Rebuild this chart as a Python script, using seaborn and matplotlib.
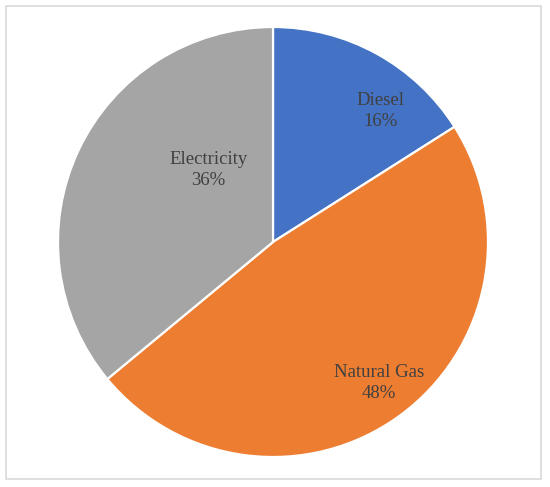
import numpy as np
import matplotlib
matplotlib.use("Agg")
import matplotlib.pyplot as plt
from matplotlib.patches import Rectangle
import seaborn as sns

categories = ["Diesel", "Natural Gas", "Electricity"]
shares = [16, 48, 36]
colors = ["#4472C4", "#ED7D31", "#A5A5A5"]

# label placement: offset from wedge mid-angle (deg) and radius fraction
label_offset = [-10.5, 1, -23]
label_radius = [0.79, 0.82, 0.45]

sns.set_style("white")
plt.rcParams["font.family"] = ["Liberation Serif", "DejaVu Serif"]

fig = plt.figure(figsize=(5.5, 4.87), dpi=100)
fig.patch.set_facecolor("white")
fig.patches.append(Rectangle((6 / 550, 8 / 487), 535 / 550, 473 / 487,
                             transform=fig.transFigure, fill=False,
                             edgecolor="#D9D9D9", linewidth=1.2))

ax = fig.add_axes([58 / 550, 30 / 487, 430 / 550, 430 / 487])
wedges, _ = ax.pie(shares, colors=colors, startangle=90, counterclock=False,
                   radius=1, wedgeprops=dict(edgecolor="white", linewidth=1.6))
ax.set_xlim(-1, 1)
ax.set_ylim(-1, 1)
ax.set_aspect("equal")
ax.axis("off")

total = sum(shares)
for w, name, val, off, r in zip(wedges, categories, shares, label_offset, label_radius):
    mid = (w.theta1 + w.theta2) / 2 + off
    x = r * np.cos(np.deg2rad(mid))
    y = r * np.sin(np.deg2rad(mid))
    ax.text(x, y, f"{name}\n{round(100 * val / total)}%", ha="center", va="center",
            fontsize=13.5, color="#404040", linespacing=1.3)

fig.savefig("out.png", dpi=100)
